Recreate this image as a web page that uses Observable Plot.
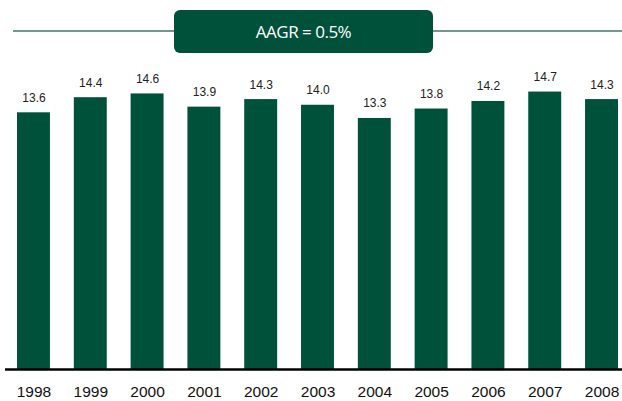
<!DOCTYPE html>
<html>
<head>
<meta charset="utf-8">
<script src="https://cdn.jsdelivr.net/npm/d3@7"></script>
<script src="https://cdn.jsdelivr.net/npm/@observablehq/plot@0.6"></script>
<style>
  html, body { margin: 0; padding: 0; background: #fff; }
  #wrap { position: relative; width: 622px; height: 401px; overflow: hidden; }
  #hline { position: absolute; left: 13px; right: 0; top: 30px; height: 0; border-top: 2px solid #6f9a8a; }
  #badge { position: absolute; left: 174px; top: 10px; width: 259px; height: 43px; background: #00513A; border-radius: 6px;
           color: #fff; font-family: "Open Sans", "DejaVu Sans", sans-serif; font-size: 17px; letter-spacing: -0.5px;
           display: flex; align-items: center; justify-content: center; }
  #chart { position: absolute; left: 0; top: 0; }
  #chart svg, #chart svg text { font-family: "Liberation Sans", Arial, sans-serif; }
</style>
</head>
<body>
<div id="wrap">
  <div id="chart"></div>
  <div id="hline"></div>
  <div id="badge">AAGR = 0.5%</div>
</div>
<script>
const years = ["1998","1999","2000","2001","2002","2003","2004","2005","2006","2007","2008"];
const values = [13.6, 14.4, 14.6, 13.9, 14.3, 14.0, 13.3, 13.8, 14.2, 14.7, 14.3];
const headline = "AAGR = 0.5%";

const data = years.map((y, i) => ({year: y, value: values[i]}));

const chart = Plot.plot({
  width: 622,
  height: 401,
  marginTop: 0,
  marginBottom: 32,
  marginLeft: 17,
  marginRight: 4,
  style: {background: "transparent", fontFamily: '"Liberation Sans", Arial, sans-serif'},
  x: {domain: years, paddingInner: 0.42, paddingOuter: 0, align: 0.5, round: false, label: null},
  y: {domain: [0, 19.55], axis: null},
  marks: [
    Plot.barY(data, {x: "year", y: "value", fill: "#00513A"}),
    Plot.text(data, {x: "year", y: "value", text: d => d.value.toFixed(1), dy: -11, lineAnchor: "bottom",
      fontSize: 12, fill: "#222", style: "letter-spacing: 0.9px"}),
    Plot.ruleY([0], {stroke: "#000", strokeWidth: 2.5, insetLeft: -12, insetRight: -4}),
    Plot.axisX({tickSize: 0, tickPadding: 16, fontSize: 15.5, color: "#111", fontWeight: "normal", label: null})
  ]
});
document.getElementById("chart").appendChild(chart);
document.getElementById("badge").textContent = headline;
</script>
</body>
</html>
